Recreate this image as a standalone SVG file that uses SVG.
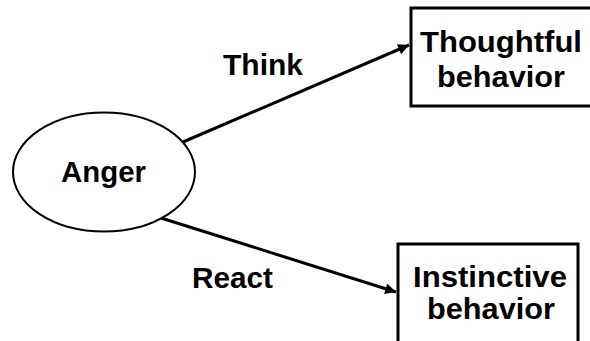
<svg xmlns="http://www.w3.org/2000/svg" width="590" height="341" viewBox="0 0 590 341">
<style>
.t{font-family:"Liberation Sans",Arial,sans-serif;font-weight:bold;font-size:29px;fill:#000}
.box{fill:#fff;stroke:#000;stroke-width:3}
.edge{stroke:#000;stroke-width:3;fill:none}
</style>
<defs>
<marker id="ah" viewBox="0 0 10 10" refX="10" refY="5" markerWidth="4" markerHeight="3.6" orient="auto" markerUnits="strokeWidth">
<path d="M0,0 L10,5 L0,10 z" fill="#000"/>
</marker>
</defs>
<rect width="590" height="341" fill="#fff"/>
<g id="connectors">
<line class="edge" x1="183" y1="142" x2="409" y2="45" marker-end="url(#ah)"/>
<line class="edge" x1="161" y1="218" x2="396" y2="292" marker-end="url(#ah)"/>
<text class="t" x="223" y="75" textLength="80" lengthAdjust="spacingAndGlyphs">Think</text>
<text class="t" x="192" y="288" textLength="81" lengthAdjust="spacingAndGlyphs">React</text>
</g>
<g id="anger">
<ellipse cx="104" cy="172" rx="91" ry="59.5" fill="#fff" stroke="#000" stroke-width="2"/>
<text class="t" x="61" y="182" textLength="85" lengthAdjust="spacingAndGlyphs">Anger</text>
</g>
<g id="thoughtful">
<rect class="box" x="411" y="8" width="200" height="98"/>
<text class="t" x="420" y="52" textLength="162" lengthAdjust="spacingAndGlyphs">Thoughtful</text>
<text class="t" x="437" y="87" textLength="128" lengthAdjust="spacingAndGlyphs">behavior</text>
</g>
<g id="instinctive">
<rect class="box" x="398" y="244" width="180" height="120"/>
<text class="t" x="413" y="287" textLength="154" lengthAdjust="spacingAndGlyphs">Instinctive</text>
<text class="t" x="427" y="319" textLength="128" lengthAdjust="spacingAndGlyphs">behavior</text>
</g>
</svg>
